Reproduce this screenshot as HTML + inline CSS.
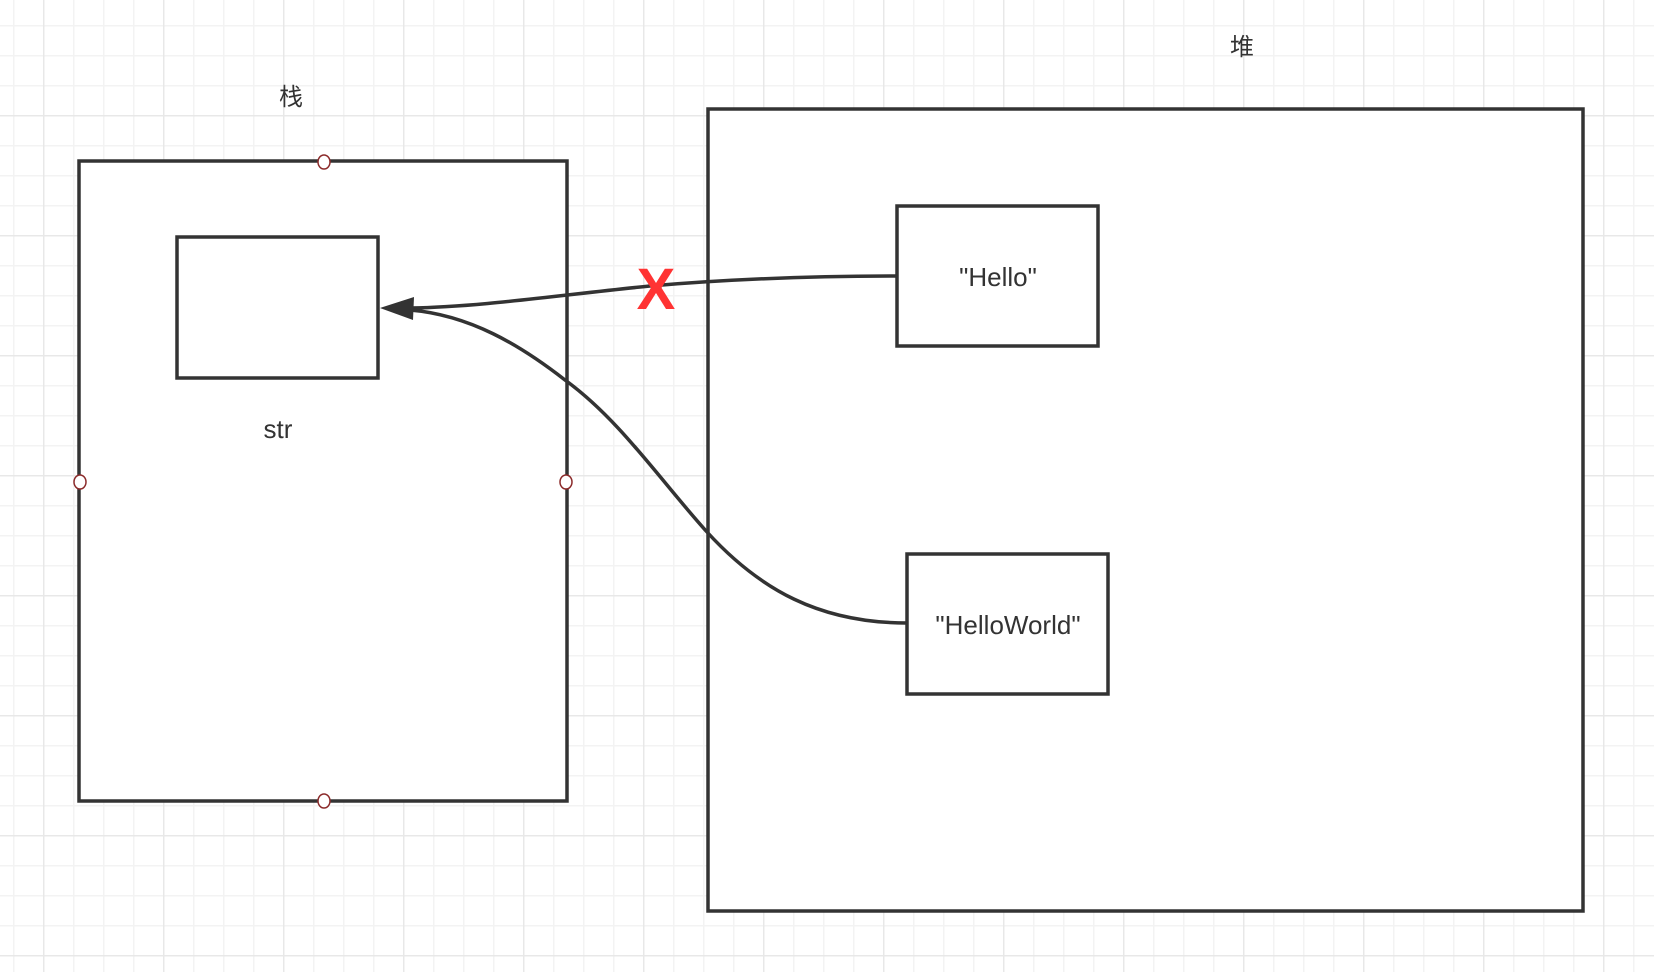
<!DOCTYPE html>
<html><head><meta charset="utf-8"><style>
html,body{margin:0;padding:0;background:#fff;}
svg{display:block;}
</style></head><body>
<svg width="1654" height="972" viewBox="0 0 1654 972" xmlns="http://www.w3.org/2000/svg">
<defs>
<pattern id="minor" x="13" y="25" width="30" height="30" patternUnits="userSpaceOnUse">
<path d="M0.5 0V30M0 0.5H30" stroke="#f3f3f3" stroke-width="2" fill="none"/>
</pattern>
<pattern id="major" x="43" y="115" width="120" height="120" patternUnits="userSpaceOnUse">
<path d="M0.5 0V120M0 0.5H120" stroke="#e8e8e8" stroke-width="2" fill="none"/>
</pattern>
</defs>
<rect width="1654" height="972" fill="#fff"/>
<rect width="1654" height="972" fill="url(#minor)"/>
<rect width="1654" height="972" fill="url(#major)"/>

<g font-family="'Liberation Sans','Noto Sans CJK SC',sans-serif" fill="#333">
<text x="291" y="105" font-size="24" text-anchor="middle">栈</text>
<text x="1242" y="55" font-size="24" text-anchor="middle">堆</text>
</g>

<rect x="79" y="161" width="488" height="640" fill="#fff" stroke="#333" stroke-width="3.5"/>
<rect x="708" y="109" width="875" height="802" fill="#fff" stroke="#333" stroke-width="3.5"/>
<rect x="177" y="237" width="201" height="141" fill="#fff" stroke="#333" stroke-width="3.5"/>
<rect x="897" y="206" width="201" height="140" fill="#fff" stroke="#333" stroke-width="3.5"/>
<rect x="907" y="554" width="201" height="140" fill="#fff" stroke="#333" stroke-width="3.5"/>

<g font-family="'Liberation Sans',sans-serif" fill="#333" font-size="26" text-anchor="middle">
<text x="278" y="438">str</text>
<text x="998" y="286">"Hello"</text>
<text x="1008" y="634">"HelloWorld"</text>
</g>

<path d="M897 276 C800 276 720 280 650 286 C560 295 480 307 410 308" fill="none" stroke="#333" stroke-width="3.5"/>
<path d="M907 623 C820 623 760 590 707 532 C660 480 620 420 565 380 C520 345 470 315 410 310" fill="none" stroke="#333" stroke-width="3.5"/>
<polygon points="380,308 414,297 413,320" fill="#333"/>

<text x="656" y="309" font-family="'Liberation Sans',sans-serif" font-weight="bold" font-size="58" fill="#ff3333" text-anchor="middle">X</text>

<g fill="#fff" stroke="#8b2a2a" stroke-width="1.5">
<ellipse cx="324" cy="162" rx="6" ry="7"/>
<ellipse cx="80" cy="482" rx="6" ry="7"/>
<ellipse cx="566" cy="482" rx="6" ry="7"/>
<ellipse cx="324" cy="801" rx="6" ry="7"/>
</g>
</svg>
</body></html>
